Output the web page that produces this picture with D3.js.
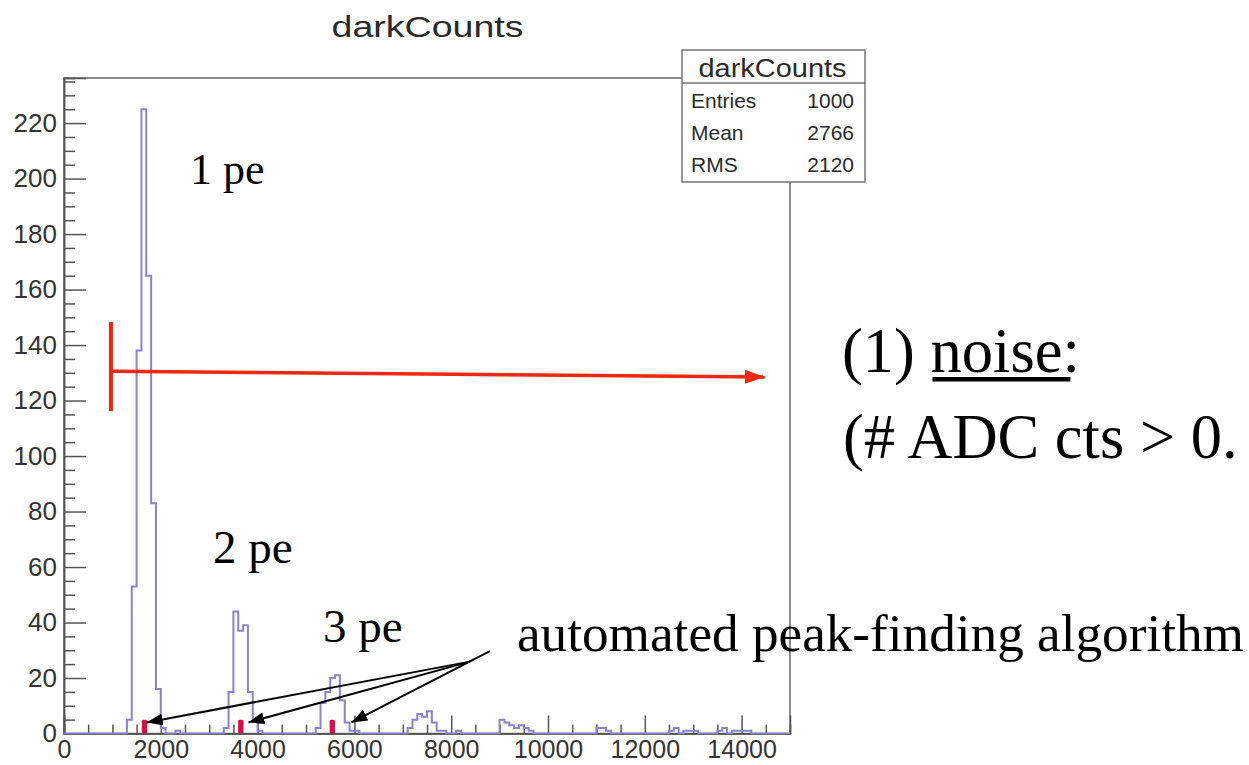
<!DOCTYPE html>
<html>
<head>
<meta charset="utf-8">
<script src="https://cdn.jsdelivr.net/npm/d3@7"></script>
<style>
  html, body { margin: 0; padding: 0; background: #fff; }
  svg { display: block; }
</style>
</head>
<body>
<svg id="chart" width="1249" height="765"></svg>
<script>
// ---- darkCounts histogram (100 ADC-count bins, non-empty bins only) ----
const binLowEdges = [
  1300, 1400, 1500, 1600, 1700, 1800, 1900, 2000, 2300,
  3300, 3400, 3500, 3600, 3700, 3800, 3900, 4000,
  5200, 5300, 5400, 5500, 5600, 5700, 5800, 5900, 6000,
  7100, 7200, 7300, 7400, 7500, 7600, 7700, 7800, 8100,
  9000, 9100, 9200, 9300, 9400, 9500, 9600,
  11000, 11100, 11200,
  12500, 12600, 12800, 12900, 13000,
  13500, 13600, 13800, 13900, 14000, 14100
];
const binCounts = [
  5, 53, 138, 225, 165, 83, 16, 2, 1,
  2, 15, 44, 37, 39, 15, 5, 1,
  2, 11, 15, 20, 21, 12, 4, 1, 1,
  2, 5, 7, 6, 8, 4, 1, 1, 1,
  5, 4, 3, 2, 3, 2, 1,
  2, 2, 1,
  1, 2, 1, 1, 1,
  1, 2, 1, 1, 1, 1
];
const binWidth = 100;
const xRange = [0, 15000];
const yRange = [0, 236.25];

// Peaks found by the peak-finding algorithm
const peakPositions = [1663, 3653, 5545];
const peakMarkerCounts = [5, 5, 5];
// Arrow tips of the annotation (ADC counts, counts)
const arrowTipX = [1710, 3810, 5940];
const arrowTipY = [4, 4, 4];

// Axis ticks
const yMajorTicks = d3.range(0, 221, 20);
const yMinorTicks = d3.range(0, 236, 5).filter(v => v % 20 !== 0);
const xMajorTicks = d3.range(0, 14001, 2000);
const xMinorTicks = d3.range(0, 14501, 500).filter(v => v % 2000 !== 0);

// Statistics box
const statsTitle = "darkCounts";
const statsLabels = ["Entries", "Mean", "RMS"];
const statsValues = ["1000", "2766", "2120"];

// ---- layout ----
const svg = d3.select("#chart");
const frame = { left: 64, top: 78, right: 790, bottom: 733.5 };
const sans = "'Liberation Sans', Arial, Helvetica, sans-serif";
const serif = "'Liberation Serif', 'Times New Roman', Times, serif";

const x = d3.scaleLinear().domain(xRange).range([frame.left, frame.right]);
const y = d3.scaleLinear().domain(yRange).range([frame.bottom, frame.top]);

svg.append("rect").attr("width", 1249).attr("height", 765).attr("fill", "#fff");

// Title
svg.append("text")
  .attr("x", 427.5).attr("y", 36.7)
  .attr("text-anchor", "middle")
  .attr("font-family", sans).attr("font-size", 30)
  .attr("textLength", 192).attr("lengthAdjust", "spacingAndGlyphs")
  .attr("fill", "#2a2a2a")
  .text("darkCounts");

// Frame
svg.append("rect")
  .attr("x", frame.left).attr("y", frame.top)
  .attr("width", frame.right - frame.left).attr("height", frame.bottom - frame.top)
  .attr("fill", "#fff").attr("stroke", "#666").attr("stroke-width", 1.5);

svg.append("clipPath").attr("id", "plotClip")
  .append("rect")
  .attr("x", frame.left).attr("y", frame.top - 1)
  .attr("width", frame.right - frame.left).attr("height", frame.bottom - frame.top + 2);

// Full histogram contents
const nBins = Math.round((xRange[1] - xRange[0]) / binWidth);
const contents = new Array(nBins).fill(0);
binLowEdges.forEach((lo, i) => {
  contents[Math.round((lo - xRange[0]) / binWidth)] = binCounts[i];
});
const stepPoints = contents.map((c, i) => [xRange[0] + i * binWidth, c]);
stepPoints.push([xRange[1], 0]);

const histLine = d3.line()
  .x(d => x(d[0]))
  .y(d => y(d[1]))
  .curve(d3.curveStepAfter);

// Axes
const axisColor = "#555";
const yAxisMajor = svg.append("g")
  .attr("transform", `translate(${frame.left},0)`)
  .call(d3.axisLeft(y).tickValues(yMajorTicks).tickSize(-22).tickPadding(7).tickFormat(d3.format("d")));
const yAxisMinor = svg.append("g")
  .attr("transform", `translate(${frame.left},0)`)
  .call(d3.axisLeft(y).tickValues(yMinorTicks).tickSize(-11).tickFormat(""));
const xAxisMajor = svg.append("g")
  .attr("transform", `translate(0,${frame.bottom})`)
  .call(d3.axisBottom(x).tickValues(xMajorTicks).tickSize(-18).tickPadding(7).tickFormat(d3.format("d")));
const xAxisMinor = svg.append("g")
  .attr("transform", `translate(0,${frame.bottom})`)
  .call(d3.axisBottom(x).tickValues(xMinorTicks).tickSize(-9).tickFormat(""));

[yAxisMajor, yAxisMinor, xAxisMajor, xAxisMinor].forEach(g => {
  g.select(".domain").attr("stroke", axisColor).attr("stroke-width", 1.5);
  g.selectAll(".tick line").attr("stroke", axisColor).attr("stroke-width", 1.5);
  g.selectAll(".tick text")
    .attr("font-family", sans).attr("font-size", 26).attr("fill", "#333");
});
xAxisMajor.selectAll(".tick text").attr("font-size", 25);

// Histogram outline
svg.append("path")
  .datum(stepPoints)
  .attr("clip-path", "url(#plotClip)")
  .attr("d", histLine)
  .attr("fill", "none")
  .attr("stroke", "#8884cc")
  .attr("stroke-width", 2);

// Peak markers
svg.append("g").selectAll("rect")
  .data(peakPositions)
  .join("rect")
  .attr("x", d => x(d) - 2.7)
  .attr("y", (d, i) => y(peakMarkerCounts[i]))
  .attr("width", 5.4)
  .attr("height", (d, i) => y(0) - y(peakMarkerCounts[i]))
  .attr("rx", 1.5)
  .attr("fill", "#d0124a");

// Arrowheads
const defs = svg.append("defs");
defs.append("marker")
  .attr("id", "blackHead")
  .attr("markerUnits", "userSpaceOnUse")
  .attr("viewBox", "0 0 16 12")
  .attr("refX", 16).attr("refY", 6)
  .attr("markerWidth", 16).attr("markerHeight", 12)
  .attr("orient", "auto")
  .append("path").attr("d", "M0,0 L16,6 L0,12 Z").attr("fill", "#000");
defs.append("marker")
  .attr("id", "redHead")
  .attr("markerUnits", "userSpaceOnUse")
  .attr("viewBox", "0 0 20 14")
  .attr("refX", 20).attr("refY", 7)
  .attr("markerWidth", 20).attr("markerHeight", 14)
  .attr("orient", "auto")
  .append("path").attr("d", "M0,0 L20,7 L0,14 Z").attr("fill", "#f2250d");

// Noise threshold bracket (red)
const noiseX = 970;
const red = "#f2250d";
svg.append("line")
  .attr("x1", x(noiseX)).attr("x2", x(noiseX))
  .attr("y1", y(148.3)).attr("y2", y(116.2))
  .attr("stroke", red).attr("stroke-width", 4);
svg.append("line")
  .attr("x1", x(noiseX)).attr("y1", y(130.6))
  .attr("x2", x(14480)).attr("y2", y(128.5))
  .attr("stroke", red).attr("stroke-width", 3.5)
  .attr("marker-end", "url(#redHead)");

// Peak-finder arrows (black)
const arrowJoin = [x(8390), y(25.9)];
const arrowStart = [x(8800), y(29.7)];
const arrows = svg.append("g");
arrowTipX.forEach((tx, i) => {
  const start = i === arrowTipX.length - 1 ? arrowStart : arrowJoin;
  arrows.append("line")
    .attr("x1", start[0]).attr("y1", start[1])
    .attr("x2", x(tx)).attr("y2", y(arrowTipY[i]))
    .attr("stroke", "#000").attr("stroke-width", 2)
    .attr("marker-end", "url(#blackHead)");
});

// Statistics box
const box = svg.append("g");
box.append("rect")
  .attr("x", 682).attr("y", 50).attr("width", 183).attr("height", 132)
  .attr("fill", "#fff").attr("stroke", "#777").attr("stroke-width", 1.5);
box.append("line")
  .attr("x1", 682).attr("x2", 865).attr("y1", 83).attr("y2", 83)
  .attr("stroke", "#777").attr("stroke-width", 1.5);
box.append("text")
  .attr("x", 772.5).attr("y", 76.5)
  .attr("text-anchor", "middle")
  .attr("font-family", sans).attr("font-size", 25)
  .attr("textLength", 148).attr("lengthAdjust", "spacingAndGlyphs")
  .attr("fill", "#2a2a2a")
  .text(statsTitle);
statsLabels.forEach((lab, i) => {
  const by = 108.3 + i * 31.7;
  box.append("text")
    .attr("x", 691).attr("y", by)
    .attr("font-family", sans).attr("font-size", 21)
    .attr("fill", "#2a2a2a").text(lab);
  box.append("text")
    .attr("x", 854).attr("y", by)
    .attr("text-anchor", "end")
    .attr("font-family", sans).attr("font-size", 21)
    .attr("fill", "#2a2a2a").text(statsValues[i]);
});

// Peak labels
const notes = svg.append("g").attr("font-family", serif).attr("fill", "#000");
notes.append("text").attr("x", 190).attr("y", 184).attr("font-size", 44).text("1 pe");
notes.append("text").attr("x", 213).attr("y", 563).attr("font-size", 47).text("2 pe");
notes.append("text").attr("x", 323).attr("y", 642).attr("font-size", 47).text("3 pe");
notes.append("text").attr("x", 517).attr("y", 651).attr("font-size", 52)
  .attr("textLength", 727).attr("lengthAdjust", "spacingAndGlyphs")
  .text("automated peak-finding algorithm");

// Noise description
const noiseText = notes.append("text").attr("x", 842).attr("y", 372).attr("font-size", 62.5);
noiseText.append("tspan").text("(1) ");
noiseText.append("tspan").text("noise");
noiseText.append("tspan").text(":");
const nNode = noiseText.node();
const ulStart = 842 + nNode.getSubStringLength(0, 4);
const ulWidth = nNode.getSubStringLength(4, 5);
notes.append("rect")
  .attr("x", ulStart + 2).attr("y", 377)
  .attr("width", ulWidth + 6).attr("height", 4.5)
  .attr("fill", "#000");
notes.append("text").attr("x", 843).attr("y", 458).attr("font-size", 62.5).text("(# ADC cts > 0.");
</script>
</body>
</html>
